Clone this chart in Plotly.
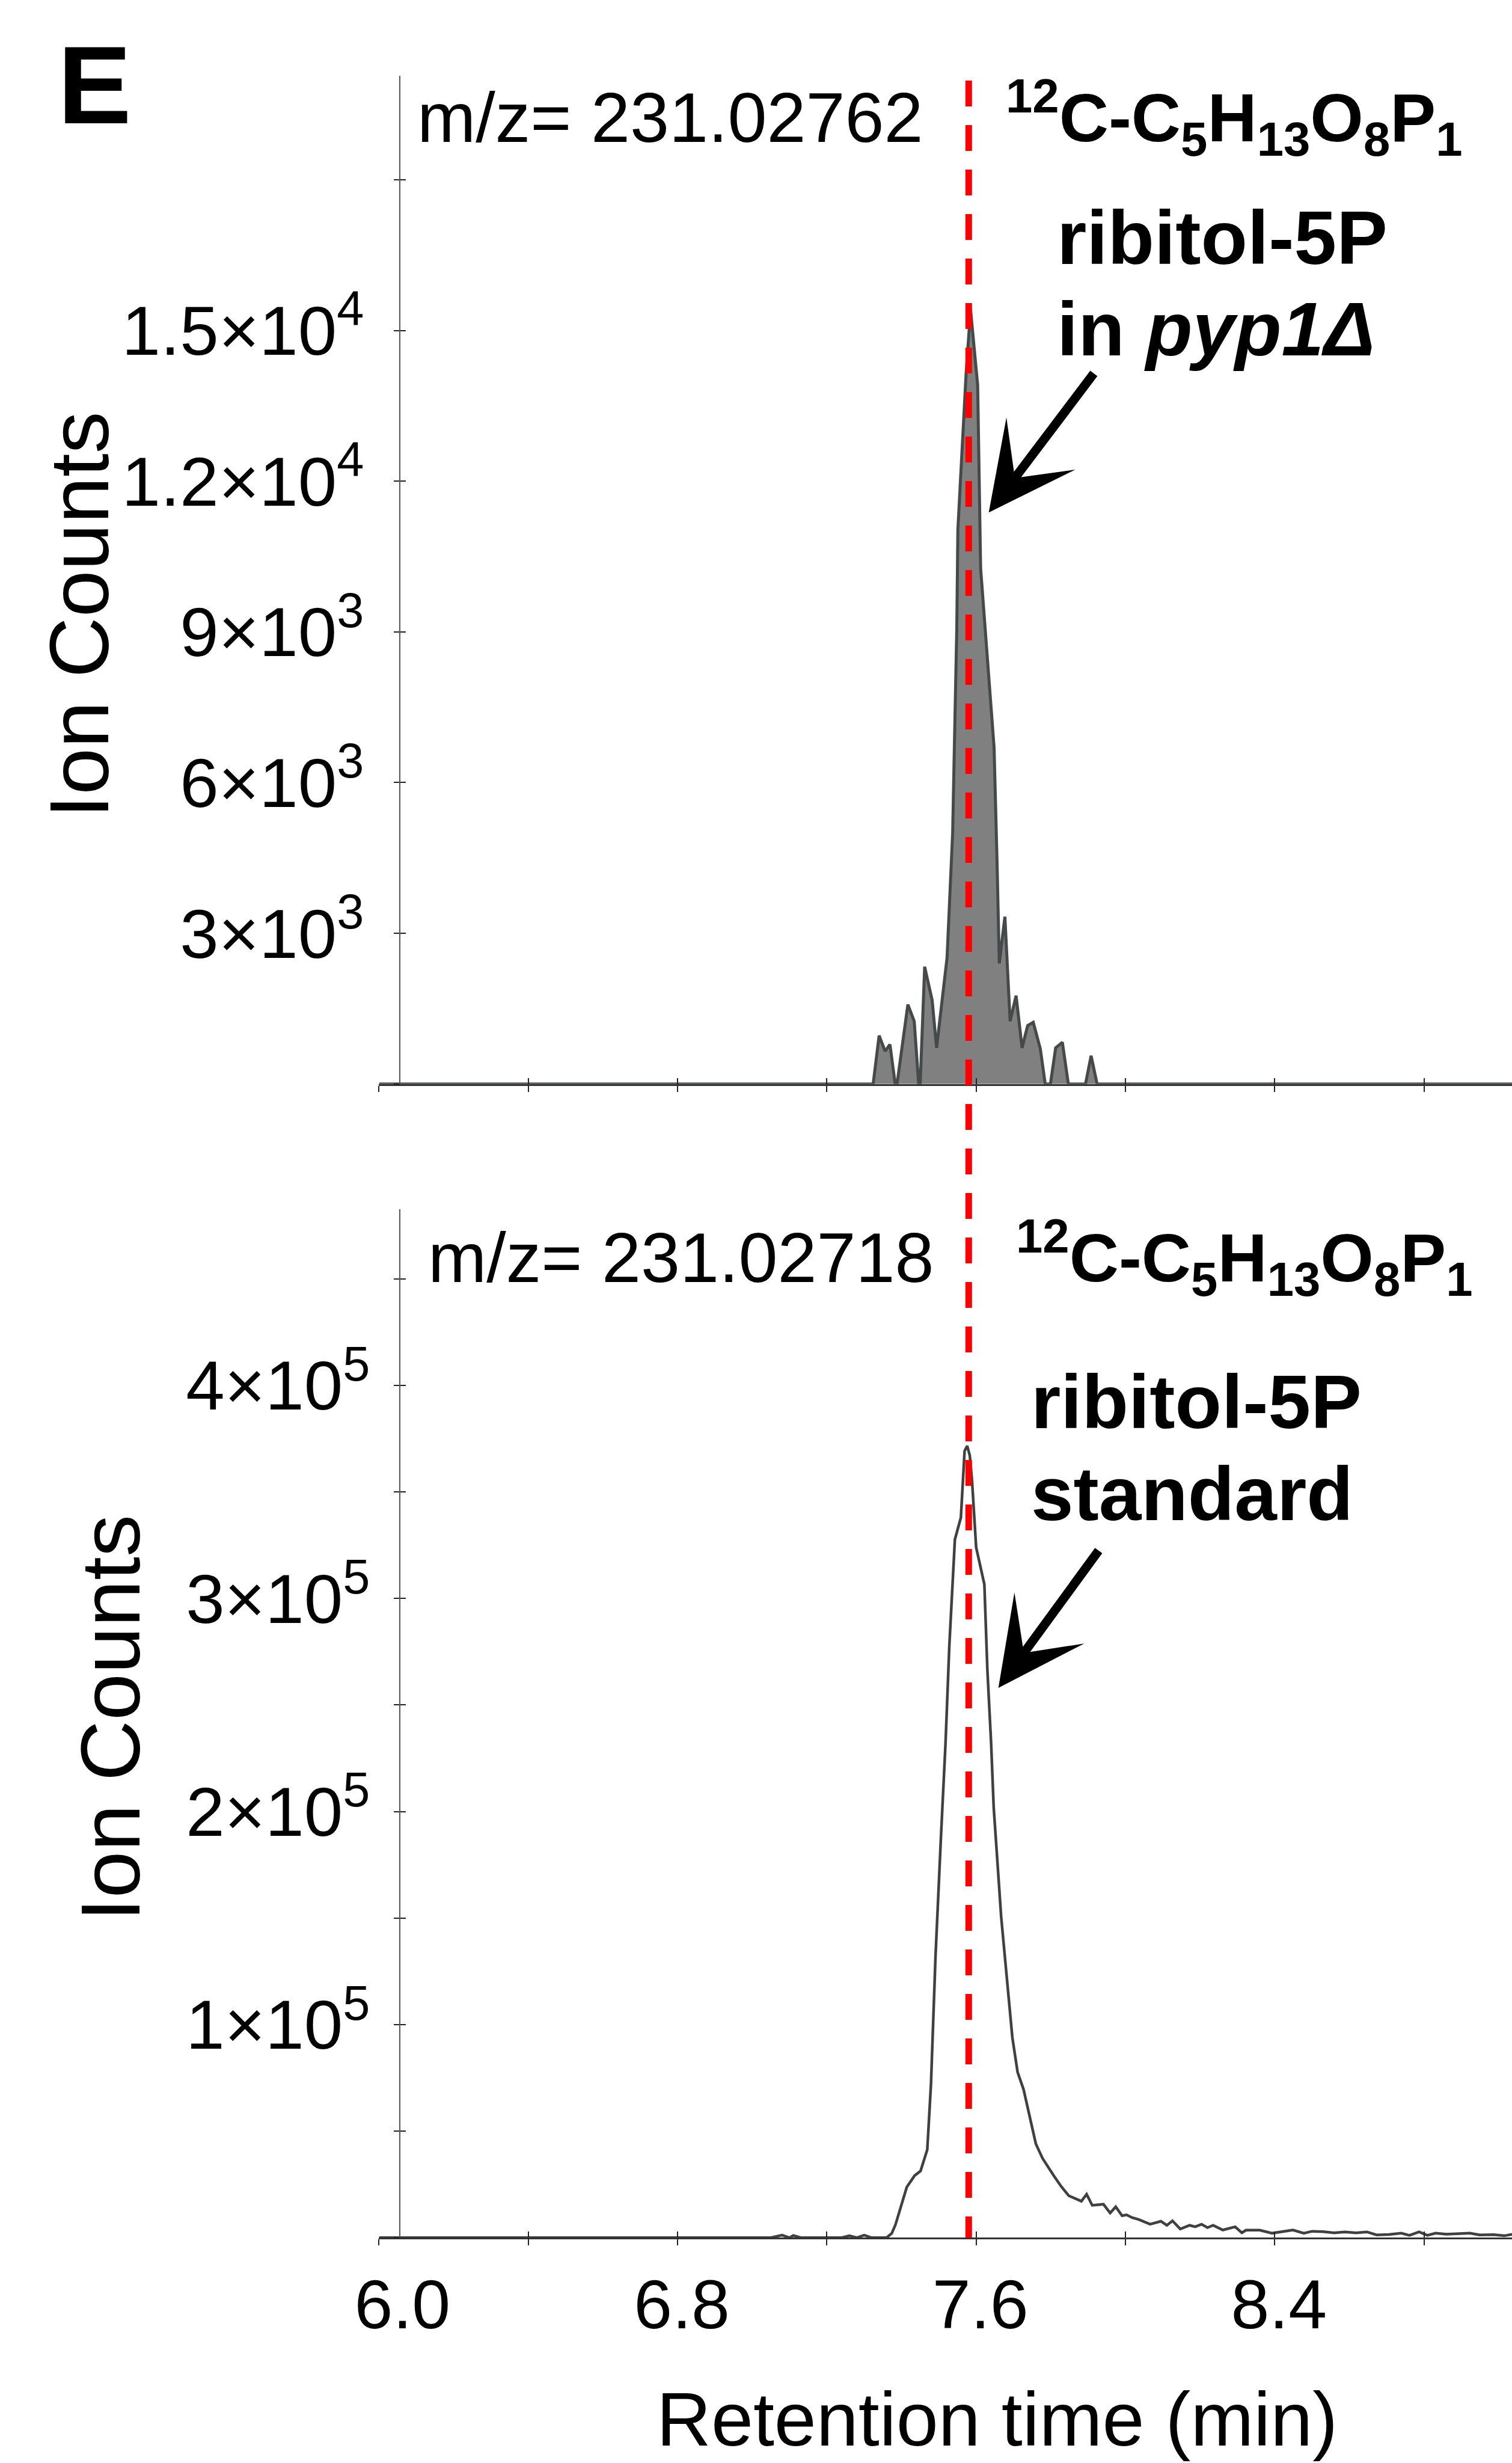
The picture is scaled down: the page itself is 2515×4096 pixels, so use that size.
import plotly.graph_objects as go

S = 0.999
W_REF, H_REF = 2517, 4099
FONT = "Liberation Sans, Arial, sans-serif"

def px(x):
    return x / W_REF

def py(y):
    return 1 - y / H_REF

# ---------------- data ----------------
# top panel: ribitol-5P in pyp1 deletion (m/z 231.02762)
rt_mutant = [6.00, 7.324, 7.340, 7.356, 7.369, 7.383, 7.388, 7.417, 7.434, 7.446,
             7.450, 7.462, 7.482, 7.494, 7.522, 7.530, 7.537, 7.541, 7.548, 7.551,
             7.560, 7.573, 7.585, 7.604, 7.612, 7.648, 7.656, 7.662, 7.677, 7.691,
             7.707, 7.723, 7.738, 7.753, 7.772, 7.785, 7.799, 7.813, 7.831, 7.847,
             7.893, 7.908, 7.924, 9.04]
counts_mutant = [0, 0, 963, 653, 786, 0, 0, 1581, 1250, 0,
                 0, 2334, 1671, 719, 2512, 3794, 5000, 6500, 9049, 11040,
                 12368, 14139, 15411, 13917, 10265, 6700, 4414, 2401, 3330, 1250,
                 1758, 719, 1161, 1228, 697, 0, 0, 719, 829, 0,
                 0, 563, 0, 0]

# bottom panel: ribitol-5P standard (m/z 231.02718)
rt_standard = [6.00, 7.05, 7.08, 7.10, 7.11, 7.13, 7.24, 7.26, 7.28, 7.30,
               7.32, 7.36, 7.374, 7.384, 7.414, 7.435, 7.451, 7.469, 7.479, 7.491,
               7.505, 7.518, 7.528, 7.536, 7.543, 7.559, 7.564, 7.569, 7.576, 7.583,
               7.589, 7.600, 7.622, 7.630, 7.640, 7.647, 7.667, 7.683, 7.697, 7.711,
               7.727, 7.760, 7.778, 7.808, 7.828, 7.848, 7.870, 7.882, 7.896, 7.911,
               7.941, 7.959, 7.974, 7.991, 8.003, 8.018, 8.036, 8.066, 8.095, 8.111,
               8.126, 8.147, 8.172, 8.187, 8.204, 8.220, 8.235, 8.261, 8.294, 8.312,
               8.323, 8.360, 8.393, 8.426, 8.449, 8.478, 8.500, 8.529, 8.559, 8.588,
               8.618, 8.647, 8.673, 8.706, 8.739, 8.761, 8.787, 8.809, 8.831, 8.860,
               8.890, 8.923, 8.949, 8.986, 9.015, 9.036]
counts_standard = [0, 0, 1200, 0, 1000, 0, 0, 900, 0, 1200,
                   0, 0, 2100, 6200, 23700, 29100, 31300, 41300, 72300, 131700,
                   185700, 232400, 277500, 306600, 327700, 337900, 355100, 369200, 371600, 367000,
                   355100, 323900, 306600, 266700, 232400, 201900, 150600, 120900, 93900, 77700,
                   69600, 44000, 37200, 29100, 24000, 19700, 18000, 17100, 20400, 15200,
                   15700, 11600, 14500, 10300, 10700, 9400, 8500, 6300, 7700, 5800,
                   7900, 4100, 5800, 5100, 6300, 4700, 5800, 3600, 5100, 2300,
                   3500, 3500, 2100, 2800, 3600, 2100, 3000, 2800, 2300, 2700,
                   2300, 2700, 1300, 1500, 2100, 1100, 2700, 1100, 2100, 1600,
                   1900, 2100, 1300, 1400, 900, 1600]

x_tickvals = [6.0, 6.4, 6.8, 7.2, 7.6, 8.0, 8.4, 8.8]
x_ticktext = ["\u00a0\u00a06.0", "", "6.8", "", "7.6", "", "8.4", ""]

top_tickvals = [0, 3000, 6000, 9000, 12000, 15000, 18000]
top_ticktext = ["", "3×10<sup>3</sup>", "6×10<sup>3</sup>", "9×10<sup>3</sup>",
                "1.2×10<sup>4</sup>", "1.5×10<sup>4</sup>", ""]
bot_tickvals = [0, 50000, 100000, 150000, 200000, 250000, 300000, 350000, 400000, 450000]
bot_ticktext = ["", "", "1×10<sup>5</sup>", "", "2×10<sup>5</sup>", "",
                "3×10<sup>5</sup>", "", "4×10<sup>5</sup>", ""]

peak_rt = 7.58
x_range = [6.0, 6.0 + (2517 - 631) / 621.25]
top_range = [0, 20072]
bot_range = [0, 482780]

# ---------------- figure ----------------
fig = go.Figure()

fig.add_trace(go.Scatter(
    x=rt_mutant, y=counts_mutant, xaxis="x2", yaxis="y2",
    mode="lines", fill="tozeroy", fillcolor="#808080",
    line=dict(color="#454949", width=5 * S), showlegend=False, hoverinfo="skip"))

fig.add_trace(go.Scatter(
    x=rt_standard, y=counts_standard, xaxis="x", yaxis="y",
    mode="lines", line=dict(color="#404040", width=4.5 * S),
    showlegend=False, hoverinfo="skip"))

# dummy traces so the overlay (inside-tick) axes are built
fig.add_trace(go.Scatter(x=[None], y=[None], xaxis="x3", yaxis="y3",
                         showlegend=False, hoverinfo="skip"))
fig.add_trace(go.Scatter(x=[None], y=[None], xaxis="x4", yaxis="y4",
                         showlegend=False, hoverinfo="skip"))

ypos = px(666)
xdom = [px(631), 1.0]
tickfont = dict(family=FONT, size=116 * S, color="black")

common_x = dict(range=x_range, tickmode="array", tickvals=x_tickvals,
                showgrid=False, zeroline=False, tickcolor="#222",
                tickwidth=2 * S, ticklen=10 * S, automargin=False)

fig.update_layout(
    template="none",
    width=2515, height=4096,
    margin=dict(l=0, r=0, t=0, b=0, pad=0, autoexpand=False),
    paper_bgcolor="white", plot_bgcolor="rgba(0,0,0,0)",
    showlegend=False,
    xaxis=dict(domain=xdom, anchor="y", ticks="outside", ticktext=x_ticktext,
               showticklabels=True, tickfont=dict(family=FONT, size=115 * S, color="black"),
               ticklabelstandoff=0, ticklabelshift=int(8 * S), showline=True,
               linecolor="#333", linewidth=3 * S, **common_x),
    xaxis2=dict(domain=xdom, anchor="y2", ticks="outside", showticklabels=False,
                showline=True, linecolor="#333", linewidth=3 * S, **common_x),
    xaxis3=dict(overlaying="x", anchor="y", ticks="inside", showticklabels=False,
                showline=False, **common_x),
    xaxis4=dict(overlaying="x2", anchor="y2", ticks="inside", showticklabels=False,
                showline=False, **common_x),
    yaxis=dict(domain=[py(3724), py(2012)], range=bot_range, anchor="free",
               position=ypos, tickmode="array", tickvals=bot_tickvals,
               ticktext=bot_ticktext, ticks="outside", ticklen=9 * S,
               tickwidth=2 * S, tickcolor="#222", tickfont=tickfont,
               ticklabelstandoff=int(18 * S), showline=True, linecolor="#555",
               linewidth=2 * S, showgrid=False, zeroline=False, automargin=False),
    yaxis2=dict(domain=[py(1804), py(126)], range=top_range, anchor="free",
                position=ypos, tickmode="array", tickvals=top_tickvals,
                ticktext=top_ticktext, ticks="outside", ticklen=9 * S,
                tickwidth=2 * S, tickcolor="#222", tickfont=tickfont,
                ticklabelstandoff=int(28 * S), showline=True, linecolor="#555",
                linewidth=2 * S, showgrid=False, zeroline=False, automargin=False),
    yaxis3=dict(overlaying="y", range=bot_range, anchor="free", position=ypos,
                tickmode="array", tickvals=bot_tickvals, ticks="inside",
                ticklen=9 * S, tickwidth=2 * S, tickcolor="#222",
                showticklabels=False, showline=False, showgrid=False,
                zeroline=False, automargin=False),
    yaxis4=dict(overlaying="y2", range=top_range, anchor="free", position=ypos,
                tickmode="array", tickvals=top_tickvals, ticks="inside",
                ticklen=9 * S, tickwidth=2 * S, tickcolor="#222",
                showticklabels=False, showline=False, showgrid=False,
                zeroline=False, automargin=False),
)

# red dashed reference line through both panels
fig.add_shape(type="line", xref="x", yref="paper", x0=peak_rt, x1=peak_rt,
              y0=py(134), y1=py(3724), layer="above",
              line=dict(color="#FF0000", width=11 * S,
                        dash=f"{43 * S:.1f}px,{31 * S:.1f}px"))

def text(x, y, s, size, xanchor="left", angle=0, yanchor="middle"):
    fig.add_annotation(x=px(x), y=py(y), xref="paper", yref="paper", text=s,
                       showarrow=False, xanchor=xanchor, yanchor=yanchor,
                       textangle=angle,
                       font=dict(family=FONT, size=size * S, color="black"))

formula = "<b><sup>12</sup>C-C<sub>5</sub>H<sub>13</sub>O<sub>8</sub>P<sub>1</sub></b>"

text(158, 142, "<b>E</b>", 184, xanchor="center")
text(693, 196, "m/z= 231.02762", 117)
text(1672, 196, formula, 114)
text(1757, 395, "<b>ribitol-5P</b>", 127)
text(1757, 547, "<b>in <i>pyp1Δ</i></b>", 127)

text(711, 2093, "m/z= 231.02718", 117)
text(1689, 2093, formula, 114)
text(1714, 2333, "<b>ribitol-5P</b>", 127)
text(1714, 2486, "<b>standard</b>", 127)

text(131.5, 1023, "Ion Counts", 140, xanchor="center", angle=-90)
text(184.5, 2859, "Ion Counts", 140, xanchor="center", angle=-90)
text(1660, 4026, "Retention time (min)", 126, xanchor="center")

# arrows
def arrow(tip, tail):
    fig.add_annotation(x=px(tip[0]), y=py(tip[1]), xref="paper", yref="paper",
                       text="", showarrow=True, arrowhead=3, arrowsize=1.6,
                       arrowwidth=15 * S, arrowcolor="black",
                       ax=(tail[0] - tip[0]) * S, ay=(tail[1] - tip[1]) * S)

arrow((1646, 853), (1822, 620))
arrow((1662, 2809), (1830, 2579))

fig.write_html("out.html")
